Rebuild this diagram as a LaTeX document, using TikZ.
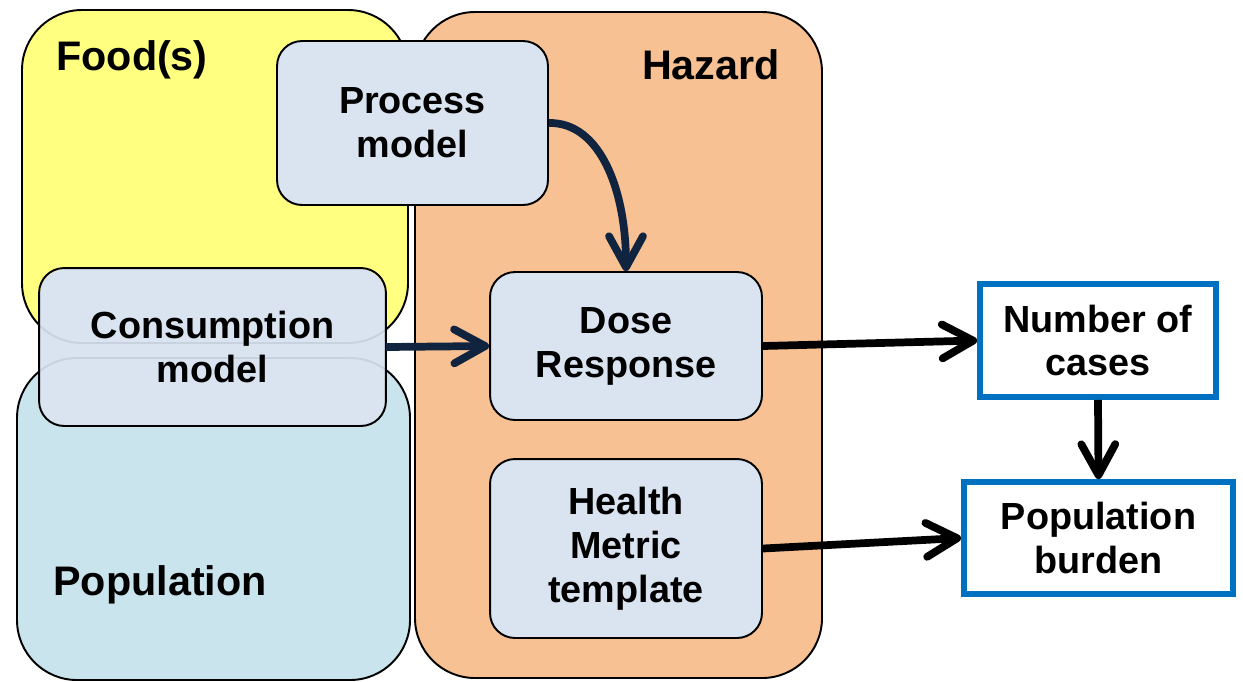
\documentclass[tikz,border=0pt]{standalone}
\usepackage{fontspec}
\setmainfont{Liberation Sans}
\usetikzlibrary{arrows.meta}
\definecolor{foodfill}{HTML}{FFFF80}
\definecolor{popfill}{HTML}{C9E4EC}
\definecolor{hazfill}{HTML}{F8C193}
\definecolor{modelfill}{HTML}{DAE3F0}
\definecolor{navy}{HTML}{10243F}
\definecolor{outblue}{HTML}{0070C0}
\definecolor{ghost}{HTML}{C8D2DE}
\tikzset{
  region/.style={draw=black, line width=1.1pt, rounded corners=1.2cm},
  heading/.style={font=\fontsize{23.5}{28}\selectfont\bfseries},
  model/.style={draw=black, line width=1.1pt, fill=modelfill, rounded corners=0.5cm,
    align=center, font=\fontsize{21.5}{25}\selectfont\bfseries, inner sep=0pt},
  outcome/.style={draw=outblue, line width=3.4pt, fill=white,
    align=center, font=\fontsize{21.5}{25}\selectfont\bfseries, inner sep=0pt},
  flow/.style={line width=4.4pt, -{Straight Barb[length=0.62cm, width=0.68cm, round]}},
}
\begin{document}
\begin{tikzpicture}[x=0.02cm, y=-0.02cm]
\useasboundingbox (0,0) rectangle (1243,681);

% background regions
\draw[region, fill=foodfill] (22,10) rectangle (408,343);
\draw[region, fill=popfill] (17,358) rectangle (410,680);
\draw[region, fill=hazfill] (415,12) rectangle (822,678);

\node[heading] (foodlbl) at (132,60) {Food(s)};
\node[heading] (hazlbl) at (711,65) {Hazard};
\node[heading] (poplbl) at (160,585) {Population};

% model boxes
\node[model, minimum width=5.42cm, minimum height=3.28cm] (proc) at (412.5,123) {Process\\model};
\node[model, draw=none, minimum width=6.9cm, minimum height=3.12cm] (cons) at (212.5,347) {};
% faint outlines of the regions seen through the consumption box
\begin{scope}
  \clip[rounded corners=0.5cm] (cons.south west) rectangle (cons.north east);
  \draw[ghost, line width=1.1pt, rounded corners=1.2cm] (22,10) rectangle (408,343);
  \draw[ghost, line width=1.1pt, rounded corners=1.2cm] (17,358) rectangle (410,680);
\end{scope}
\draw[line width=1.1pt, rounded corners=0.5cm] (cons.south west) rectangle (cons.north east);
\node[align=center, font=\fontsize{21.5}{25}\selectfont\bfseries] (constext) at (cons.center) {Consumption\\model};
\node[model, minimum width=5.44cm, minimum height=2.96cm] (dose) at (626,346) {Dose\\Response};
\node[model, minimum width=5.44cm, minimum height=3.58cm] (health) at (626,548.5) {Health\\Metric\\template};

% outcome boxes
\node[outcome, minimum width=4.72cm, minimum height=2.26cm] (cases) at (1098,340.5) {Number of\\cases};
\node[outcome, minimum width=5.38cm, minimum height=2.24cm] (burden) at (1098.5,538) {Population\\burden};

% connectors
\draw[flow, navy] (proc.east) .. controls (600,122) and (626,190) .. (dose.north);
\draw[flow, navy] (cons.east) -- (dose.west);
\draw[flow] (dose.east) -- (cases.west);
\draw[flow] (cases.south) -- (burden.north);
\draw[flow] (health.east) -- (burden.west);
\end{tikzpicture}
\end{document}
